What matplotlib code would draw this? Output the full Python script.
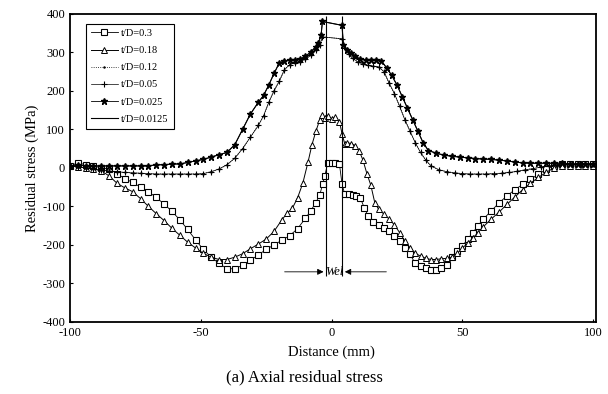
import matplotlib
matplotlib.use('Agg')
import matplotlib.pyplot as plt

plt.rcParams.update({
    'font.family': ['Liberation Serif', 'DejaVu Serif'],
    'font.size': 9,
    'axes.linewidth': 1.3,
    'axes.unicode_minus': False,
})

# t/D = 0.3 (open squares)
x_sq = [-100, -97, -94, -91, -88, -85, -82, -79, -76, -73, -70, -67, -64, -61, -58,
        -55, -52, -49, -46, -43, -40, -37, -34, -31, -28, -25, -22, -19, -16, -13,
        -10, -8, -6, -4.5, -3.4, -2.6, -1.5, 0, 1.5, 3, 4, 5, 6.5, 8, 9.5, 11, 12.5,
        14, 16, 18, 20, 22, 24, 26, 28, 30, 32, 34, 36, 38, 40, 42, 44, 46, 48, 50,
        52, 54, 56, 58, 61, 64, 67, 70, 73, 76, 79, 82, 85, 88, 91, 94, 97, 100]
y_sq = [5, 13, 8, 5, 0, -3, -15, -28, -38, -50, -62, -77, -94, -113, -135,
        -160, -187, -212, -232, -248, -262, -262, -253, -240, -226, -212, -200, -188, -176, -158,
        -131, -112, -90, -70, -42, -21, 12, 13, 12, 10, -42, -68, -68, -70, -72, -78, -104,
        -125, -140, -148, -155, -164, -176, -191, -208, -225, -248, -256, -261, -264, -264, -260, -252, -232, -217, -203,
        -185, -168, -150, -133, -112, -91, -73, -57, -43, -30, -17, -4, 6, 10, 10, 10, 10, 10]

# t/D = 0.18 (open triangles)
x_tr = [-100, -97, -94, -91, -88, -85, -82, -79, -76, -73, -70, -67, -64, -61, -58,
        -55, -52, -49, -46, -43, -40, -37, -34, -31, -28, -25, -22, -19, -17, -15,
        -13, -11, -9, -7.5, -6, -4.5, -3.5, -2.5, -1.5, 0, 1.5, 3, 4, 5, 6, 7.5, 9,
        10.5, 12, 13.5, 15, 16.5, 18, 20, 22, 24, 26, 28, 30, 32, 34, 36, 38, 40, 42,
        44, 46, 48, 50, 52, 54, 56, 58, 61, 64, 67, 70, 73, 76, 79, 82, 85, 88, 91,
        94, 97, 100]
y_tr = [5, 3, 0, -3, -8, -21, -40, -52, -62, -80, -100, -119, -137, -157, -175,
        -193, -208, -222, -232, -238, -238, -232, -223, -210, -198, -185, -165, -135, -118, -105,
        -78, -40, 15, 60, 95, 125, 138, 130, 135, 128, 132, 120, 89, 63, 65, 63, 58,
        45, 20, -15, -45, -90, -108, -120, -133, -148, -168, -190, -208, -222, -229, -235, -238, -238, -236,
        -235, -232, -222, -208, -196, -182, -168, -153, -133, -115, -95, -76, -57, -40, -25, -12, 0, 5, 5,
        5, 5, 5]

# t/D = 0.05 (plus)
x_pl = [-100, -97, -94, -91, -88, -85, -82, -79, -76, -73, -70, -67, -64, -61, -58,
        -55, -52, -49, -46, -43, -40, -37, -34, -31, -28, -26, -24, -22, -20, -18,
        -16, -14, -12, -10, -8, -6, -4.5, -3.5, 4, 5, 6.5, 8, 10, 12, 14, 16, 18,
        20, 22, 24, 26, 28, 30, 32, 34, 36, 38, 41, 44, 47, 50, 53, 56, 59, 62, 65,
        68, 71, 74, 77, 80, 83, 86, 89, 92, 95, 98, 100]
y_pl = [5, 3, 0, -3, -5, -8, -10, -12, -13, -14, -15, -16, -16, -16, -16,
        -16, -16, -15, -10, -3, 8, 25, 50, 80, 110, 135, 170, 200, 225, 255,
        268, 273, 276, 282, 292, 305, 320, 340, 335, 310, 295, 285, 275, 270, 266, 264, 262,
        250, 220, 193, 160, 125, 95, 65, 40, 20, 5, -5, -10, -13, -15, -16, -16, -16, -15, -14,
        -12, -9, -5, -2, 2, 5, 8, 10, 10, 10, 10, 10]

# t/D = 0.025 (stars)
x_st = [-100, -97, -94, -91, -88, -85, -82, -79, -76, -73, -70, -67, -64, -61, -58,
        -55, -52, -49, -46, -43, -40, -37, -34, -31, -28, -26, -24, -22, -20, -18,
        -16, -14, -12, -10, -8, -6, -5, -4, -3.5, 4, 4.5, 6, 7.5, 9, 11, 13, 15, 17,
        19, 21, 23, 25, 27, 29, 31, 33, 35, 37, 40, 43, 46, 49, 52, 55, 58, 61, 64,
        67, 70, 73, 76, 79, 82, 85, 88, 91, 94, 97, 100]
y_st = [5, 8, 5, 5, 5, 5, 5, 5, 5, 5, 5, 8, 8, 10, 10,
        14, 18, 22, 28, 34, 40, 60, 100, 140, 170, 188, 215, 245, 272, 278,
        279, 280, 282, 290, 300, 315, 325, 345, 380, 370, 320, 305, 298, 290, 282, 280, 280, 280,
        278, 260, 240, 215, 185, 155, 125, 95, 65, 45, 38, 33, 30, 28, 26, 24, 23, 22, 20,
        18, 15, 13, 12, 12, 12, 12, 12, 10, 10, 10, 10]

# t/D = 0.12 (dots) and t/D = 0.0125 (line) lie under the 0.05 and 0.025 curves
x_12, y_12 = x_pl, y_pl
x_0125, y_0125 = x_st, y_st

weld_edges = [-2, 4]

fig = plt.figure(figsize=(6.08, 3.94), dpi=100)
ax = fig.add_axes([0.115, 0.183, 0.865, 0.782])

ax.plot(x_sq, y_sq, color='k', lw=0.6, marker='s', ms=4.5, mfc='white', mec='k',
        mew=0.8, label='t/D=0.3')
ax.plot(x_tr, y_tr, color='k', lw=0.7, marker='^', ms=3.8, mfc='white', mec='k',
        mew=0.7, label='t/D=0.18')
ax.plot(x_12, y_12, color='k', lw=0.6, ls=':', marker='.', ms=1.5,
        label='t/D=0.12')
ax.plot(x_pl, y_pl, color='k', lw=0.5, marker='+', ms=5, mew=0.8,
        label='t/D=0.05')
ax.plot(x_st, y_st, color='k', lw=0.6, marker='*', ms=4.5, mfc='k', mec='k',
        label='t/D=0.025')
ax.plot(x_0125, y_0125, color='k', lw=0.8, label='t/D=0.0125')

# weld zone
ax.vlines(weld_edges, -282, 395, colors='k', lw=0.8)
ax.annotate('', xy=(weld_edges[0], -270), xytext=(-19, -270),
            arrowprops=dict(arrowstyle='-|>', color='k', lw=0.6, mutation_scale=9))
ax.annotate('', xy=(weld_edges[1], -270), xytext=(22, -270),
            arrowprops=dict(arrowstyle='-|>', color='k', lw=0.6, mutation_scale=9))
ax.text(1, -271, 'Wel', fontsize=9, ha='center', va='center', fontstyle='italic')

ax.set_xlim(-100, 101)
ax.set_ylim(-400, 400)
ax.set_xticks([-100, -50, 0, 50, 100])
ax.set_yticks(range(-400, 401, 100))
ax.tick_params(direction='in', length=2, labelsize=9)
ax.set_ylabel('Residual stress (MPa)', fontsize=10.5, labelpad=2)

leg = ax.legend(loc='upper left', bbox_to_anchor=(0.02, 0.985), fontsize=7.5,
                frameon=True, fancybox=False, edgecolor='k', framealpha=1,
                handlelength=2.6, labelspacing=0.75, borderpad=0.5,
                handletextpad=0.3)
leg.get_frame().set_linewidth(0.8)

fig.text(0.545, 0.107, 'Distance (mm)', ha='center', va='center', fontsize=10.5)
fig.text(0.5, 0.043, '(a) Axial residual stress', ha='center', va='center', fontsize=12)

fig.savefig('out.png', dpi=100)
plt.close()
